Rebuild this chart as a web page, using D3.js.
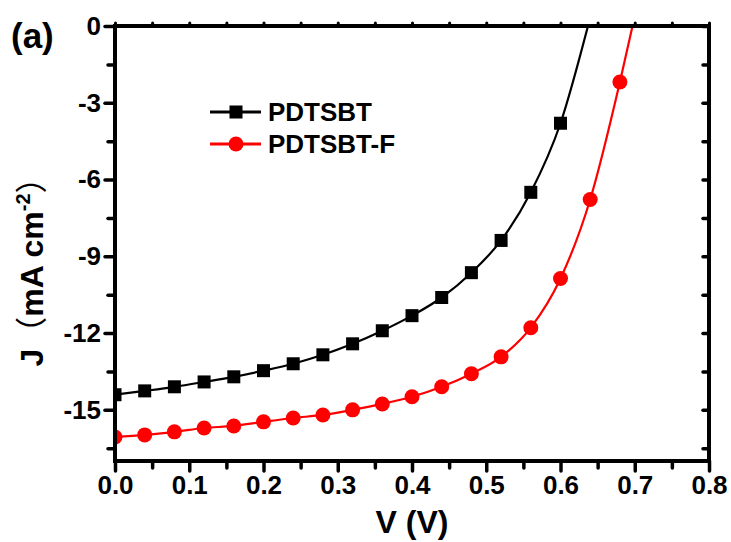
<!DOCTYPE html>
<html>
<head>
<meta charset="utf-8">
<script src="https://d3js.org/d3.v7.min.js"></script>
<style>
  body { margin: 0; background: #fff; }
  text { font-family: "Liberation Sans", Arial, sans-serif; font-weight: bold; }
</style>
</head>
<body>
<script>
//Data
var voltage = [0.00, 0.04, 0.08, 0.12, 0.16, 0.20, 0.24, 0.28, 0.32, 0.36, 0.40, 0.44, 0.48, 0.52, 0.56, 0.60, 0.64, 0.68];
var jPDTSBT = [-14.41, -14.26, -14.10, -13.91, -13.71, -13.47, -13.20, -12.85, -12.42, -11.91, -11.32, -10.61, -9.64, -8.38, -6.50, -3.80];
var jPDTSBTF = [-16.06, -15.98, -15.86, -15.71, -15.63, -15.47, -15.32, -15.20, -15.00, -14.77, -14.49, -14.10, -13.59, -12.93, -11.79, -9.87, -6.78, -2.19];
var vocPDTSBT = 0.637;
var vocPDTSBTF = 0.697;
var seriesNames = ["PDTSBT", "PDTSBT-F"];
var seriesColors = ["#000000", "#ff0000"];
var xTicks = [0.0, 0.1, 0.2, 0.3, 0.4, 0.5, 0.6, 0.7, 0.8];
var yTicks = [0, -3, -6, -9, -12, -15];

//Setting width and height of the svg
var width = 731,
    height = 542;

var svg = d3.select("body").append("svg")
    .attr("width", width)
    .attr("height", height);

//Plot area
var plotLeft = 115, plotRight = 709, plotTop = 26, plotBottom = 461;

var x = d3.scaleLinear().domain([0, 0.8]).range([plotLeft, plotRight]);
var y = d3.scaleLinear().domain([-17, 0]).range([plotBottom, plotTop]);

svg.append("clipPath").attr("id", "clip")
  .append("rect")
    .attr("x", plotLeft).attr("y", plotTop)
    .attr("width", plotRight - plotLeft).attr("height", plotBottom - plotTop);

//Building series with their open-circuit end point for the line
function makeSeries(js, voc) {
    var pts = js.map(function(d, i) { return [voltage[i], d]; });
    return { markers: pts, line: pts.concat([[voc, 0]]) };
}
var series = [makeSeries(jPDTSBT, vocPDTSBT), makeSeries(jPDTSBTF, vocPDTSBTF)];

var line = d3.line()
    .x(function(d) { return x(d[0]); })
    .y(function(d) { return y(d[1]); })
    .curve(d3.curveMonotoneX);

//Curves
series.forEach(function(s, i) {
    svg.append("path")
        .attr("clip-path", "url(#clip)")
        .attr("d", line(s.line))
        .attr("fill", "none")
        .attr("stroke", seriesColors[i])
        .attr("stroke-width", 2.2);
});

//Markers
svg.append("g").attr("clip-path", "url(#clip)")
  .selectAll("rect")
  .data(series[0].markers)
  .enter().append("rect")
    .attr("x", function(d) { return x(d[0]) - 6.5; })
    .attr("y", function(d) { return y(d[1]) - 6.5; })
    .attr("width", 13)
    .attr("height", 13)
    .attr("fill", seriesColors[0]);

svg.append("g").attr("clip-path", "url(#clip)")
  .selectAll("circle")
  .data(series[1].markers)
  .enter().append("circle")
    .attr("cx", function(d) { return x(d[0]); })
    .attr("cy", function(d) { return y(d[1]); })
    .attr("r", 7.5)
    .attr("fill", seriesColors[1]);

//Axes (Origin style: thick frame, major + minor ticks)
var xMinor = d3.range(0.05, 0.8, 0.1);
var yMinor = d3.range(-1.5, -17, -3);

function styleAxis(g, w) {
    g.select(".domain").remove();
    g.selectAll(".tick line").attr("stroke", "#000").attr("stroke-width", w).attr("stroke-linecap", "round");
}

var xAxis = svg.append("g")
    .attr("transform", "translate(0," + plotBottom + ")")
    .call(d3.axisBottom(x).tickValues(xTicks).tickSize(10).tickPadding(5).tickFormat(d3.format(".1f")));
styleAxis(xAxis, 3.5);
xAxis.selectAll("text").attr("font-size", 26).attr("fill", "#000")
    .attr("font-family", "Liberation Sans, Arial, sans-serif").attr("font-weight", "bold");

svg.append("g")
    .attr("transform", "translate(0," + plotBottom + ")")
    .call(d3.axisBottom(x).tickValues(xMinor).tickSize(7).tickFormat(""))
    .call(styleAxis, 3.5);

var yAxis = svg.append("g")
    .attr("transform", "translate(" + plotLeft + ",0)")
    .call(d3.axisLeft(y).tickValues(yTicks).tickSize(10).tickPadding(4).tickFormat(function(d) { return String(d); }));
styleAxis(yAxis, 3.5);
yAxis.selectAll("text").attr("font-size", 26).attr("fill", "#000")
    .attr("font-family", "Liberation Sans, Arial, sans-serif").attr("font-weight", "bold");

svg.append("g")
    .attr("transform", "translate(" + plotLeft + ",0)")
    .call(d3.axisLeft(y).tickValues(yMinor).tickSize(7).tickFormat(""))
    .call(styleAxis, 3.5);

//Mirror axes: top ticks outward, right ticks inward
svg.append("g")
    .attr("transform", "translate(0," + plotTop + ")")
    .call(d3.axisTop(x).tickValues(xTicks.concat(xMinor)).tickSize(3).tickFormat(""))
    .call(styleAxis, 3);

svg.append("g")
    .attr("transform", "translate(" + plotRight + ",0)")
    .call(d3.axisLeft(y).tickValues(yTicks.concat(yMinor)).tickSize(6).tickFormat(""))
    .call(styleAxis, 3.5);

//Frame
svg.append("rect")
    .attr("x", plotLeft).attr("y", plotTop)
    .attr("width", plotRight - plotLeft).attr("height", plotBottom - plotTop)
    .attr("fill", "none")
    .attr("stroke", "#000")
    .attr("stroke-width", 4);

//Axis titles
svg.append("text")
    .attr("x", 412)
    .attr("y", 533)
    .attr("text-anchor", "middle")
    .attr("font-size", 32)
    .text("V (V)");

var yTitle = svg.append("text")
    .attr("transform", "translate(43,264) rotate(-90)")
    .attr("text-anchor", "middle")
    .attr("font-size", 32);
yTitle.append("tspan").text("J");
yTitle.append("tspan").attr("font-family", "Noto Sans CJK SC").attr("font-weight", "normal").text("（");
yTitle.append("tspan").text("mA cm");
yTitle.append("tspan").attr("font-size", 20).attr("dy", -13).text("-2");
yTitle.append("tspan").attr("dy", 13).attr("font-family", "Noto Sans CJK SC").attr("font-weight", "normal").text("）");

//Panel label
svg.append("text")
    .attr("x", 11)
    .attr("y", 48)
    .attr("font-size", 35)
    .text("(a)");

//Legend
var legend = svg.append("g");
[112, 144].forEach(function(ly, i) {
    legend.append("line")
        .attr("x1", 210).attr("x2", 261)
        .attr("y1", ly).attr("y2", ly)
        .attr("stroke", seriesColors[i])
        .attr("stroke-width", 3);
    if (i === 0) {
        legend.append("rect")
            .attr("x", 236 - 6.5).attr("y", ly - 6.5)
            .attr("width", 13).attr("height", 13)
            .attr("fill", seriesColors[i]);
    } else {
        legend.append("circle")
            .attr("cx", 236).attr("cy", ly)
            .attr("r", 7.5)
            .attr("fill", seriesColors[i]);
    }
    legend.append("text")
        .attr("x", 268)
        .attr("y", ly + 9)
        .attr("font-size", 26)
        .text(seriesNames[i]);
});
</script>
</body>
</html>
